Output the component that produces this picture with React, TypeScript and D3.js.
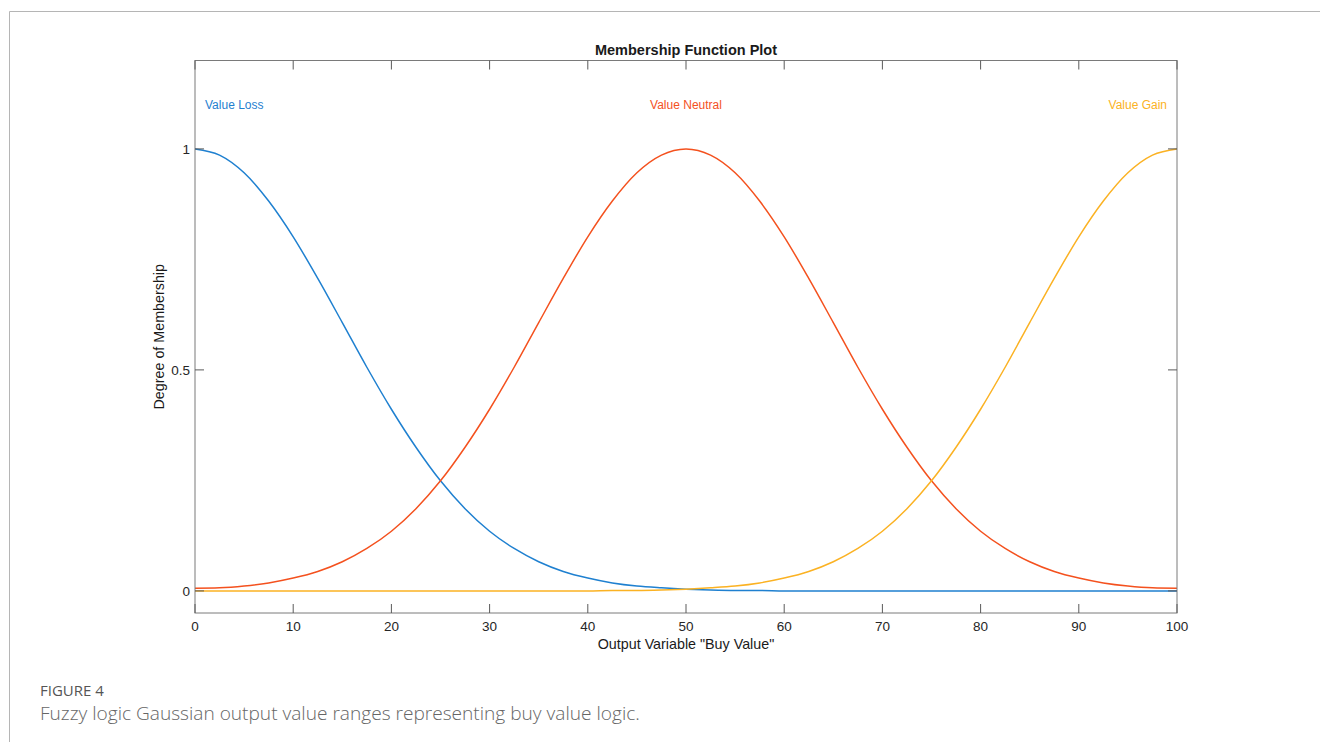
import * as d3 from "d3";

// sample positions on the output variable axis
const xSamples = [
  0, 2.5, 5, 7.5, 10, 12.5, 15, 17.5, 20, 22.5, 25, 27.5, 30, 32.5, 35, 37.5, 40,
  42.5, 45, 47.5, 50, 52.5, 55, 57.5, 60, 62.5, 65, 67.5, 70, 72.5, 75, 77.5, 80,
  82.5, 85, 87.5, 90, 92.5, 95, 97.5, 100,
];

// membership values
const lossValues = [
  1.0, 0.986, 0.946, 0.882, 0.801, 0.707, 0.607, 0.506, 0.411, 0.325, 0.249,
  0.186, 0.135, 0.096, 0.066, 0.044, 0.029, 0.018, 0.011, 0.007, 0.004, 0.002,
  0.001, 0.001, 0, 0, 0, 0, 0, 0, 0, 0, 0, 0, 0, 0, 0, 0, 0, 0, 0,
];
const neutralValues = [
  0.006, 0.007, 0.011, 0.018, 0.029, 0.044, 0.066, 0.096, 0.135, 0.186, 0.249,
  0.325, 0.411, 0.506, 0.607, 0.707, 0.801, 0.882, 0.946, 0.986, 1.0, 0.986,
  0.946, 0.882, 0.801, 0.707, 0.607, 0.506, 0.411, 0.325, 0.249, 0.186, 0.135,
  0.096, 0.066, 0.044, 0.029, 0.018, 0.011, 0.007, 0.006,
];
const gainValues = [
  0, 0, 0, 0, 0, 0, 0, 0, 0, 0, 0, 0, 0, 0, 0, 0, 0, 0.001, 0.001, 0.002, 0.004,
  0.007, 0.011, 0.018, 0.029, 0.044, 0.066, 0.096, 0.135, 0.186, 0.249, 0.325,
  0.411, 0.506, 0.607, 0.707, 0.801, 0.882, 0.946, 0.986, 1.0,
];

const seriesNames = ["Value Loss", "Value Neutral", "Value Gain"];
const seriesColors = ["#1f80d0", "#f4511e", "#fbb223"];
const xTicks = [0, 10, 20, 30, 40, 50, 60, 70, 80, 90, 100];
const yTicks = [0, 0.5, 1];

const W = 1320;
const H = 742;
const plot = { left: 195, right: 1177, top: 60.5, bottom: 613 };
const axisFont = "'Liberation Sans', Arial, sans-serif";

const App = () => {
  const x = d3.scaleLinear().domain([0, 100]).range([plot.left, plot.right]);
  const y = d3.scaleLinear().domain([-0.05, 1.2]).range([plot.bottom, plot.top]);

  const line = d3
    .line<number>()
    .x((_, i) => x(xSamples[i]))
    .y((d) => y(d))
    .curve(d3.curveMonotoneX);

  const series = [lossValues, neutralValues, gainValues];
  const tickLen = 9;
  const cx = (plot.left + plot.right) / 2;
  const cy = (plot.top + plot.bottom) / 2;

  return (
    <svg
      width={W}
      height={H}
      style={{ position: "absolute", left: 0, top: 0, background: "#fff" }}
    >
      {/* figure frame */}
      <line x1={9.5} y1={11.5} x2={W} y2={11.5} stroke="#b5b5b5" />
      <line x1={9.5} y1={11.5} x2={9.5} y2={H} stroke="#b5b5b5" />

      {/* curves */}
      {series.map((vals, i) => (
        <path
          key={seriesNames[i]}
          d={line(vals) ?? ""}
          fill="none"
          stroke={seriesColors[i]}
          strokeWidth={1.5}
        />
      ))}

      {/* axes box */}
      <rect
        x={plot.left}
        y={plot.top}
        width={plot.right - plot.left}
        height={plot.bottom - plot.top}
        fill="none"
        stroke="#7a7a7a"
      />

      {xTicks.map((t) => (
        <g key={"x" + t}>
          <line x1={x(t)} x2={x(t)} y1={plot.bottom} y2={plot.bottom - tickLen} stroke="#5a5a5a" />
          <line x1={x(t)} x2={x(t)} y1={plot.top} y2={plot.top + tickLen} stroke="#5a5a5a" />
          <text
            x={x(t)}
            y={631}
            textAnchor="middle"
            fontFamily={axisFont}
            fontSize={13.5}
            fill="#262626"
          >
            {t}
          </text>
        </g>
      ))}

      {yTicks.map((t) => (
        <g key={"y" + t}>
          <line x1={plot.left} x2={plot.left + tickLen} y1={y(t)} y2={y(t)} stroke="#5a5a5a" />
          <line x1={plot.right} x2={plot.right - tickLen} y1={y(t)} y2={y(t)} stroke="#5a5a5a" />
          <text
            x={plot.left - 5}
            y={y(t)}
            dy="0.35em"
            textAnchor="end"
            fontFamily={axisFont}
            fontSize={13.5}
            fill="#262626"
          >
            {t}
          </text>
        </g>
      ))}

      {/* curve labels */}
      <text x={205} y={109} fontFamily={axisFont} fontSize={12} fill={seriesColors[0]}>
        {seriesNames[0]}
      </text>
      <text x={cx} y={109} textAnchor="middle" fontFamily={axisFont} fontSize={12} fill={seriesColors[1]}>
        {seriesNames[1]}
      </text>
      <text x={1167} y={109} textAnchor="end" fontFamily={axisFont} fontSize={12} fill={seriesColors[2]}>
        {seriesNames[2]}
      </text>

      {/* titles */}
      <text
        x={cx}
        y={55}
        textAnchor="middle"
        fontFamily={axisFont}
        fontSize={14.5}
        fontWeight="bold"
        fill="#1a1a1a"
      >
        Membership Function Plot
      </text>
      <text
        x={cx}
        y={649}
        textAnchor="middle"
        fontFamily={axisFont}
        fontSize={14.3}
        fill="#1a1a1a"
      >
        Output Variable "Buy Value"
      </text>
      <text
        transform={`translate(164,${cy}) rotate(-90)`}
        textAnchor="middle"
        fontFamily={axisFont}
        fontSize={14.3}
        fill="#1a1a1a"
      >
        Degree of Membership
      </text>

      {/* caption */}
      <text x={40} y={696} fontFamily="'Open Sans', sans-serif" fontSize={15} fill="#555">
        FIGURE 4
      </text>
      <text x={40} y={720} fontFamily="'Open Sans', sans-serif" fontSize={19.1} fontWeight={300} fill="#666">
        Fuzzy logic Gaussian output value ranges representing buy value logic.
      </text>
    </svg>
  );
};

export default App;
